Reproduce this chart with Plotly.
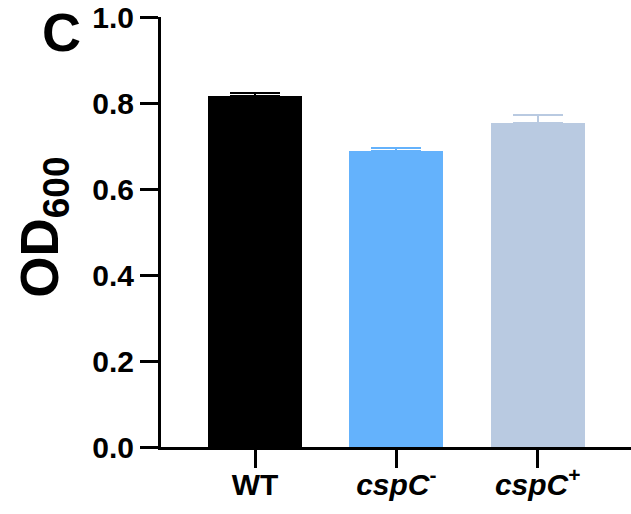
import plotly.graph_objects as go

# Strains and mean OD600 with upper error (SD)
strains = ["WT", "<i>cspC</i><sup>-</sup>", "<i>cspC</i><sup>+</sup>"]
od600 = [0.817, 0.688, 0.753]
od600_err = [0.007, 0.007, 0.019]
bar_colors = ["#000000", "#64B2FC", "#B9CAE1"]
y_ticks = [0.0, 0.2, 0.4, 0.6, 0.8, 1.0]
y_tick_text = ["0.0", "0.2", "0.4", "0.6", "0.8", "1.0"]

FONT = "Liberation Sans, Arial, sans-serif"

fig = go.Figure()
for i, (name, val, err, col) in enumerate(zip(strains, od600, od600_err, bar_colors)):
    fig.add_trace(go.Bar(
        x=[i], y=[val], width=0.665,
        marker=dict(color=col, line=dict(width=0)),
        error_y=dict(type="data", symmetric=False, array=[err], arrayminus=[0],
                     color=col, thickness=2, width=25),
        showlegend=False,
    ))

fig.update_layout(
    width=631, height=514,
    margin=dict(l=161, r=0, t=17, b=67),
    plot_bgcolor="white", paper_bgcolor="white",
    bargap=0,
    font=dict(family=FONT, color="black"),
    xaxis=dict(
        range=[-0.665, 2.66], tickmode="array",
        tickvals=list(range(len(strains))), ticktext=strains,
        showline=True, linecolor="black", linewidth=3,
        ticks="outside", ticklen=18, tickwidth=3, tickcolor="black",
        tickfont=dict(family=FONT, size=30, weight="bold"),
        ticklabelstandoff=-9,
        showgrid=False, zeroline=False,
    ),
    yaxis=dict(
        range=[0, 1.0], tickmode="array", tickvals=y_ticks, ticktext=y_tick_text,
        showline=True, linecolor="black", linewidth=3,
        ticks="outside", ticklen=18, tickwidth=3, tickcolor="black",
        tickfont=dict(family=FONT, size=30, weight="bold"),
        showgrid=False, zeroline=False,
    ),
    annotations=[
        dict(text="<b>OD<sub>600</sub></b>", xref="paper", yref="paper",
             x=-0.249, y=0.512, xanchor="center", yanchor="middle",
             textangle=-90, showarrow=False,
             font=dict(family=FONT, size=53, color="black")),
        dict(text="<b>C</b>", xref="paper", yref="paper",
             x=-0.211, y=0.965, xanchor="center", yanchor="middle",
             showarrow=False,
             font=dict(family=FONT, size=54, color="black")),
    ],
)

fig.write_html("out.html")
